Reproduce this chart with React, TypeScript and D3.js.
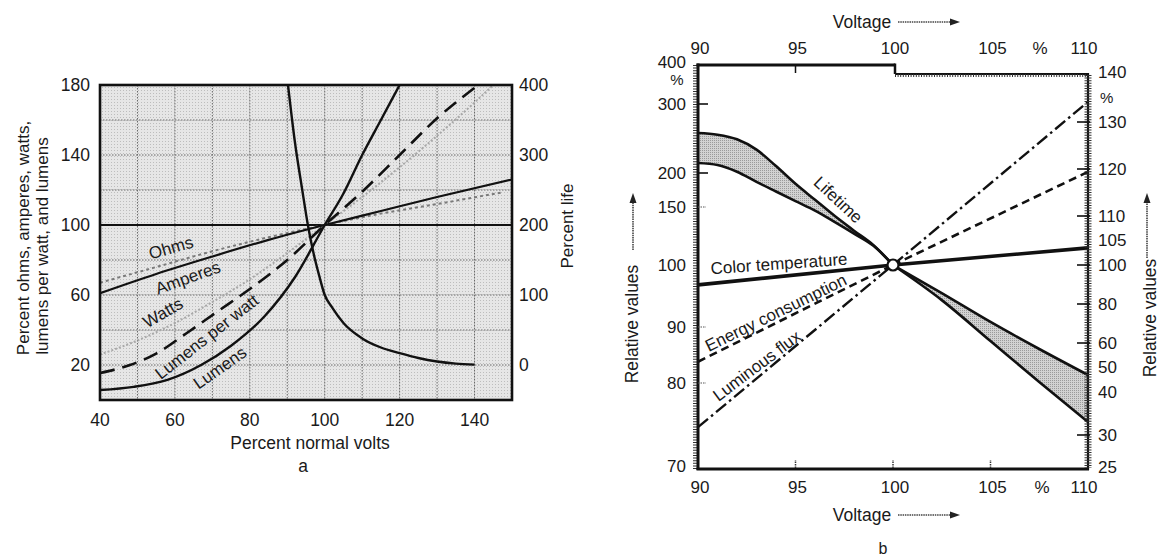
import React from 'react';
import * as d3 from 'd3';

const FONT = "'Liberation Sans', Arial, Helvetica, sans-serif";

// ---------- Chart a data ----------
const aXTicks = [40, 60, 80, 100, 120, 140];
const aYTicksLeft = [20, 60, 100, 140, 180];
const aYTicksRight = [0, 100, 200, 300, 400];
const aGridX = [50, 60, 70, 80, 90, 100, 110, 120, 130, 140];
const aGridY = [20, 40, 60, 80, 100, 120, 140, 160];

const ampVolts = [40, 55, 70, 85, 100, 115, 130, 150];
const ampValues = [61, 72, 82, 91.5, 100, 108, 116, 126];
const ohmVolts = [40, 55, 70, 85, 100, 115, 130, 147];
const ohmValues = [67, 76, 85, 93, 100, 106.5, 112, 118.5];
const wattVolts = [40, 50, 60, 70, 80, 90, 100, 110, 120, 130, 140, 145];
const wattValues = [26, 34, 44, 56, 69, 84, 100, 116, 133, 151, 170, 180];
const lpwVolts = [40, 48, 55, 63, 71, 81, 90, 100, 110, 120, 130, 141];
const lpwValues = [15.4, 20, 26.5, 38, 50, 65, 80, 100, 119, 140, 161, 180];
const lumVolts = [40, 49, 58, 67, 75, 84, 92, 100, 105, 110, 115, 120];
const lumValues = [5.7, 7.5, 11.5, 20, 31, 48, 70, 100, 118, 140, 160, 180];
const lifeVolts = [90.2, 92, 94, 95.5, 97, 98.5, 100, 102, 105, 110, 115, 120, 125, 130, 135, 140];
const lifeValues = [400, 320, 250, 200, 160, 128, 100, 82, 60, 38, 25, 17, 10, 5, 2, 0.5];
const refVolts = [40, 150];
const refValues = [100, 100];

// ---------- Chart b data ----------
const bXTicks = [90, 95, 100, 105, 110];
const bLeftUpperTicks = [400, 300, 200, 150, 100];
const bLeftLowerTicks = [90, 80, 70];
const bRightUpperTicks = [140, 130, 120, 110, 105, 100];
const bRightLowerTicks = [80, 60, 50, 40, 30, 25];

const lifeLeftVolts = [90, 91, 92, 93, 94, 95, 96, 97, 98, 99, 100];
const lifeLeftUpper = [258, 255.5, 248.8, 233.8, 210, 184.1, 160.6, 142.4, 129.6, 117.1, 100];
const lifeLeftLower = [214.5, 211.6, 201.9, 187, 172.8, 158.7, 146.9, 137.2, 127.1, 116.5, 100];
const lifeRightVolts = [100, 102.5, 105, 107.5, 110];
const lifeRightUpper = [100, 85.6, 70.8, 57.5, 46.8];
const lifeRightLower = [100, 82, 61, 44, 33];

const halfLeftVolts = [90, 100];
const halfRightVolts = [100, 110];
const colorTempLeft = [96.8, 100];
const colorTempRight = [100, 103.5];
const energyLeft = [83.8, 100];
const energyRight = [100, 119.4];
const fluxLeft = [74.8, 100];
const fluxRight = [100, 134.3];

export default function App() {
  // chart a scales
  const xa = d3.scaleLinear().domain([40, 150]).range([100, 512]);
  const ya = d3.scaleLinear().domain([0, 180]).range([400, 85]);
  const yLife = d3.scaleLinear().domain([0, 400]).range([ya(20), ya(180)]);

  // chart b scales
  const xb = d3.scaleLinear().domain([90, 110]).range([698, 1088]);
  const yLU = d3.scaleLinear().domain([100, 150, 200, 300, 400]).range([265, 207, 173, 104, 65]);
  const yLL = d3.scaleLinear().domain([70, 80, 90, 100]).range([468, 383, 327, 265]);
  const yRU = d3.scaleLinear().domain([100, 110, 120, 130, 140]).range([265, 216, 169, 122, 75]);
  const yRL = d3.scaleLinear().domain([25, 30, 40, 50, 60, 80, 100]).range([467, 435, 392, 367, 343, 304, 265]);

  const mkLine = (xs: number[], ys: number[], xS: any, yS: any, curve: any = d3.curveMonotoneX) =>
    d3.line<number>().x((_, i) => xS(xs[i])).y((v) => yS(v)).curve(curve)(ys) || '';

  const mkArea = (xs: number[], y0: number[], y1: number[], xS: any, yS: any) =>
    d3.area<number>().x((_, i) => xS(xs[i])).y0((_, i) => yS(y0[i])).y1((_, i) => yS(y1[i])).curve(d3.curveMonotoneX)(xs) || '';

  const txt = { fontFamily: FONT, fill: '#1a1a1a' } as const;

  const arrowRight = (x1: number, x2: number, y: number) => (
    <g>
      <line x1={x1} x2={x2 - 8} y1={y} y2={y} stroke="#444" strokeWidth={1.6} strokeDasharray="1.5 0.8" />
      <path d={`M${x2},${y} L${x2 - 10},${y - 3.5} L${x2 - 10},${y + 3.5} Z`} fill="#222" />
    </g>
  );
  const arrowUp = (x: number, y1: number, y2: number) => (
    <g>
      <line x1={x} x2={x} y1={y1} y2={y2 + 8} stroke="#444" strokeWidth={1.6} strokeDasharray="1.5 0.8" />
      <path d={`M${x},${y2} L${x - 3.5},${y2 + 10} L${x + 3.5},${y2 + 10} Z`} fill="#222" />
    </g>
  );

  return (
    <svg width={1162} height={556} style={{ position: 'absolute', left: 0, top: 0, background: '#fff' }}>
      <defs>
        <clipPath id="clipA">
          <rect x={100} y={85} width={412} height={315} />
        </clipPath>
        <pattern id="stipple" width={3} height={3} patternUnits="userSpaceOnUse">
          <rect width={3} height={3} fill="#e6e6e6" />
          <rect width={1} height={1} fill="#bdbdbd" />
        </pattern>
        <pattern id="bandFill" width={2} height={2} patternUnits="userSpaceOnUse">
          <rect width={2} height={2} fill="#d2d2d2" />
          <rect width={1} height={1} fill="#9a9a9a" />
        </pattern>
      </defs>

      {/* ================= Chart a ================= */}
      <rect x={100} y={85} width={412} height={315} fill="url(#stipple)" />
      {aGridX.map((v) => (
        <line key={'gx' + v} x1={xa(v)} x2={xa(v)} y1={85} y2={400} stroke="#666" strokeWidth={1} strokeDasharray="1.5 1.5" />
      ))}
      {aGridY.map((v) => (
        <line key={'gy' + v} x1={100} x2={512} y1={ya(v)} y2={ya(v)} stroke="#666" strokeWidth={1} strokeDasharray="1.5 1.5" />
      ))}
      <g clipPath="url(#clipA)" fill="none">
        <path d={mkLine(refVolts, refValues, xa, ya, d3.curveLinear)} stroke="#111" strokeWidth={2.2} />
        <path d={mkLine(ohmVolts, ohmValues, xa, ya)} stroke="#7a7a7a" strokeWidth={2} strokeDasharray="3 3" />
        <path d={mkLine(wattVolts, wattValues, xa, ya)} stroke="#a8a8a8" strokeWidth={2} strokeDasharray="2 2" />
        <path d={mkLine(ampVolts, ampValues, xa, ya)} stroke="#111" strokeWidth={2.2} />
        <path d={mkLine(lpwVolts, lpwValues, xa, ya)} stroke="#111" strokeWidth={2.6} strokeDasharray="15 8" />
        <path d={mkLine(lumVolts, lumValues, xa, ya)} stroke="#111" strokeWidth={2.4} />
        <path d={mkLine(lifeVolts, lifeValues, xa, yLife)} stroke="#111" strokeWidth={2.4} />
      </g>
      <rect x={100} y={85} width={412} height={315} fill="none" stroke="#111" strokeWidth={2.6} />

      {aXTicks.map((v) => (
        <text key={'ax' + v} x={xa(v)} y={420} textAnchor="middle" dominantBaseline="central" fontSize={17.5} {...txt}>{v}</text>
      ))}
      {aYTicksLeft.map((v) => (
        <text key={'ayl' + v} x={90} y={ya(v)} textAnchor="end" dominantBaseline="central" fontSize={17.5} {...txt}>{v}</text>
      ))}
      {aYTicksRight.map((v) => (
        <text key={'ayr' + v} x={519} y={yLife(v)} textAnchor="start" dominantBaseline="central" fontSize={17.5} {...txt}>{v}</text>
      ))}

      <text x={310} y={443} textAnchor="middle" dominantBaseline="central" fontSize={17.5} {...txt}>Percent normal volts</text>
      <text x={303} y={466} textAnchor="middle" dominantBaseline="central" fontSize={17.5} {...txt}>a</text>
      <text transform="translate(23,238) rotate(-90)" textAnchor="middle" dominantBaseline="central" fontSize={17} {...txt}>Percent ohms, amperes, watts,</text>
      <text transform="translate(42,246) rotate(-90)" textAnchor="middle" dominantBaseline="central" fontSize={17} {...txt}>lumens per watt, and lumens</text>
      <text transform="translate(567,226) rotate(-90)" textAnchor="middle" dominantBaseline="central" fontSize={17} {...txt}>Percent life</text>

      <text transform="translate(171,248) rotate(-16)" textAnchor="middle" dominantBaseline="central" fontSize={17} {...txt}>Ohms</text>
      <text transform="translate(188,278) rotate(-20)" textAnchor="middle" dominantBaseline="central" fontSize={17} {...txt}>Amperes</text>
      <text transform="translate(163,313) rotate(-30)" textAnchor="middle" dominantBaseline="central" fontSize={17} {...txt}>Watts</text>
      <text transform="translate(207,337) rotate(-38)" textAnchor="middle" dominantBaseline="central" fontSize={17} {...txt}>Lumens per watt</text>
      <text transform="translate(220,368) rotate(-35)" textAnchor="middle" dominantBaseline="central" fontSize={17} {...txt}>Lumens</text>

      {/* ================= Chart b ================= */}
      {/* lifetime band */}
      <path d={mkArea(lifeLeftVolts, lifeLeftLower, lifeLeftUpper, xb, yLU)} fill="url(#bandFill)" stroke="none" />
      <path d={mkArea(lifeRightVolts, lifeRightLower, lifeRightUpper, xb, yRL)} fill="url(#bandFill)" stroke="none" />
      <g fill="none" stroke="#111">
        <path d={mkLine(lifeLeftVolts, lifeLeftUpper, xb, yLU)} strokeWidth={2.6} />
        <path d={mkLine(lifeLeftVolts, lifeLeftLower, xb, yLU)} strokeWidth={2.6} />
        <path d={mkLine(lifeRightVolts, lifeRightUpper, xb, yRL)} strokeWidth={2.6} />
        <path d={mkLine(lifeRightVolts, lifeRightLower, xb, yRL)} strokeWidth={2.6} />

        <path d={mkLine(halfLeftVolts, colorTempLeft, xb, yLL, d3.curveLinear)} strokeWidth={3.6} />
        <path d={mkLine(halfRightVolts, colorTempRight, xb, yRU, d3.curveLinear)} strokeWidth={3.6} />
        <path d={mkLine(halfLeftVolts, energyLeft, xb, yLL, d3.curveLinear)} strokeWidth={2.6} strokeDasharray="8 5" />
        <path d={mkLine(halfRightVolts, energyRight, xb, yRU, d3.curveLinear)} strokeWidth={2.6} strokeDasharray="8 5" />
        <path d={mkLine(halfLeftVolts, fluxLeft, xb, yLL, d3.curveLinear)} strokeWidth={2.4} strokeDasharray="13 4 2.5 4" />
        <path d={mkLine(halfRightVolts, fluxRight, xb, yRU, d3.curveLinear)} strokeWidth={2.4} strokeDasharray="13 4 2.5 4" />
      </g>
      <circle cx={xb(100)} cy={yLL(100)} r={5.5} fill="#fff" stroke="#111" strokeWidth={2.2} />

      {/* frame */}
      <line x1={695} x2={695} y1={65} y2={470} stroke="#333" strokeWidth={4} strokeDasharray="1 1.6" />
      <line x1={698} x2={698} y1={63.5} y2={470} stroke="#111" strokeWidth={3} />
      <line x1={696.5} x2={1089} y1={469} y2={469} stroke="#111" strokeWidth={3} />
      <line x1={696.5} x2={xb(100) + 2} y1={65} y2={65} stroke="#111" strokeWidth={3} />
      <line x1={xb(100) + 2} x2={xb(100) + 2} y1={63.5} y2={74} stroke="#111" strokeWidth={2.5} />
      <line x1={xb(100) + 2} x2={1088} y1={74} y2={74} stroke="#111" strokeWidth={2} />
      <line x1={xb(100) + 2} x2={1088} y1={75.5} y2={75.5} stroke="#333" strokeWidth={3} strokeDasharray="1 1.6" />
      <line x1={1088} x2={1088} y1={73} y2={470} stroke="#111" strokeWidth={2.2} />
      <line x1={1088} x2={1088} y1={75} y2={468} stroke="#333" strokeWidth={7} strokeDasharray="1 1.6" />

      {/* ticks */}
      <line x1={xb(95)} x2={xb(95)} y1={65} y2={73} stroke="#111" strokeWidth={1.5} />
      {[95, 100, 105].map((v) => (
        <line key={'bt' + v} x1={xb(v)} x2={xb(v)} y1={468} y2={460} stroke="#333" strokeWidth={1.5} strokeDasharray="1.5 1" />
      ))}
      {[300, 200].map((v) => (
        <line key={'lu' + v} x1={698} x2={708} y1={yLU(v)} y2={yLU(v)} stroke="#111" strokeWidth={1.6} />
      ))}
      <line x1={698} x2={706} y1={yLU(150)} y2={yLU(150)} stroke="#555" strokeWidth={1.2} strokeDasharray="1.5 1" />
      {[90, 80].map((v) => (
        <line key={'ll' + v} x1={698} x2={706} y1={yLL(v)} y2={yLL(v)} stroke="#555" strokeWidth={1.2} strokeDasharray="1.5 1" />
      ))}
      {[130, 120, 110, 100].map((v) => (
        <line key={'ru' + v} x1={1077} x2={1090} y1={yRU(v)} y2={yRU(v)} stroke="#111" strokeWidth={1.6} />
      ))}
      {[80, 60, 30].map((v) => (
        <line key={'rl' + v} x1={1077} x2={1090} y1={yRL(v)} y2={yRL(v)} stroke="#111" strokeWidth={1.6} />
      ))}

      {/* tick labels */}
      {bXTicks.map((v) => (
        <text key={'tx' + v} x={xb(v) + (v === 110 ? -4 : 2)} y={48} textAnchor="middle" dominantBaseline="central" fontSize={17} {...txt}>{v}</text>
      ))}
      <text x={1040} y={48} textAnchor="middle" dominantBaseline="central" fontSize={17} {...txt}>%</text>
      {bXTicks.map((v) => (
        <text key={'bx' + v} x={xb(v) + (v === 110 ? -4 : 2)} y={487} textAnchor="middle" dominantBaseline="central" fontSize={17} {...txt}>{v}</text>
      ))}
      <text x={1042} y={487} textAnchor="middle" dominantBaseline="central" fontSize={17} {...txt}>%</text>

      {bLeftUpperTicks.map((v) => (
        <text key={'lut' + v} x={686} y={v === 400 ? 62 : yLU(v)} textAnchor="end" dominantBaseline="central" fontSize={17} {...txt}>{v}</text>
      ))}
      <text x={677} y={79} textAnchor="middle" dominantBaseline="central" fontSize={15} {...txt}>%</text>
      {bLeftLowerTicks.map((v) => (
        <text key={'llt' + v} x={686} y={yLL(v) - (v === 70 ? 2 : 0)} textAnchor="end" dominantBaseline="central" fontSize={17} {...txt}>{v}</text>
      ))}
      {bRightUpperTicks.map((v) => (
        <text key={'rut' + v} x={1098} y={v === 140 ? 72 : yRU(v)} textAnchor="start" dominantBaseline="central" fontSize={17} {...txt}>{v}</text>
      ))}
      <text x={1100} y={97} textAnchor="start" dominantBaseline="central" fontSize={15} {...txt}>%</text>
      {bRightLowerTicks.map((v) => (
        <text key={'rlt' + v} x={1098} y={yRL(v)} textAnchor="start" dominantBaseline="central" fontSize={17} {...txt}>{v}</text>
      ))}

      {/* axis titles */}
      <text x={862} y={22} textAnchor="middle" dominantBaseline="central" fontSize={17.5} {...txt}>Voltage</text>
      {arrowRight(898, 960, 22)}
      <text x={862} y={515} textAnchor="middle" dominantBaseline="central" fontSize={17.5} {...txt}>Voltage</text>
      {arrowRight(898, 960, 515)}
      <text x={883} y={548} textAnchor="middle" dominantBaseline="central" fontSize={16} {...txt}>b</text>
      <text transform="translate(632,324) rotate(-90)" textAnchor="middle" dominantBaseline="central" fontSize={17.5} {...txt}>Relative values</text>
      {arrowUp(633, 250, 193)}
      <text transform="translate(1150,318) rotate(-90)" textAnchor="middle" dominantBaseline="central" fontSize={17.5} {...txt}>Relative values</text>
      {arrowUp(1147, 258, 193)}

      {/* curve labels */}
      <text transform="translate(838,200) rotate(43)" textAnchor="middle" dominantBaseline="central" fontSize={17} {...txt}>Lifetime</text>
      <text transform="translate(779,264) rotate(-4)" textAnchor="middle" dominantBaseline="central" fontSize={17} {...txt}>Color temperature</text>
      <text transform="translate(776,313) rotate(-26)" textAnchor="middle" dominantBaseline="central" fontSize={17} {...txt}>Energy consumption</text>
      <text transform="translate(757,366) rotate(-37)" textAnchor="middle" dominantBaseline="central" fontSize={17} {...txt}>Luminous flux</text>
    </svg>
  );
}
